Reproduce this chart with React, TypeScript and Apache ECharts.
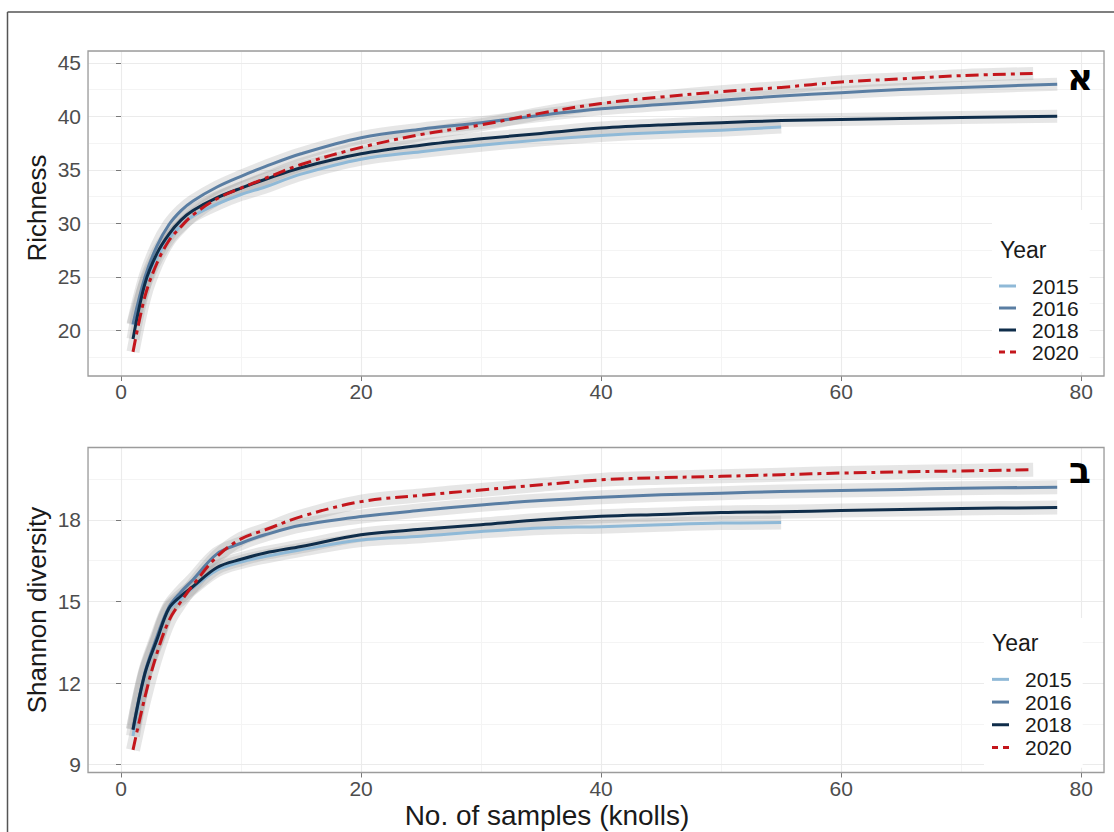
import React, { useEffect, useRef } from "react";
import * as echarts from "echarts";

// Rarefaction curves: number of sampled knolls vs. accumulated richness / Shannon diversity
const YEARS = ["2015", "2016", "2018", "2020"];

const KNOLLS = [1, 2, 3, 4, 5, 6, 8, 10, 12, 15, 20, 25, 30, 35, 40, 45, 50, 55, 60, 65, 70, 78];
const KNOLLS_2015 = [1, 2, 3, 4, 5, 6, 8, 10, 12, 15, 20, 25, 30, 35, 40, 45, 50, 55];
const KNOLLS_2020 = [1, 2, 3, 4, 5, 6, 8, 10, 12, 15, 20, 25, 30, 35, 40, 45, 50, 55, 60, 65, 70, 76];

const RICHNESS_2015 = [20.5, 24.3, 26.8, 28.6, 29.8, 30.7, 31.8, 32.7, 33.4, 34.6, 36.0, 36.7, 37.3, 37.8, 38.2, 38.5, 38.7, 39.0];
const RICHNESS_2016 = [20.6, 25.0, 27.9, 29.9, 31.2, 32.1, 33.4, 34.4, 35.3, 36.5, 38.0, 38.8, 39.4, 40.1, 40.7, 41.1, 41.5, 41.9, 42.2, 42.5, 42.7, 43.0];
const RICHNESS_2018 = [19.2, 24.4, 27.2, 29.0, 30.3, 31.2, 32.4, 33.3, 34.1, 35.2, 36.5, 37.3, 37.9, 38.4, 38.9, 39.2, 39.4, 39.6, 39.7, 39.8, 39.9, 40.0];
const RICHNESS_2020 = [18.0, 23.2, 26.3, 28.4, 29.7, 30.8, 32.3, 33.3, 34.2, 35.5, 37.1, 38.3, 39.2, 40.3, 41.2, 41.8, 42.3, 42.7, 43.2, 43.5, 43.8, 44.0];

const SHANNON_2015 = [10.05, 12.3, 13.55, 14.7, 15.1, 15.5, 16.15, 16.45, 16.65, 16.9, 17.26, 17.4, 17.57, 17.7, 17.75, 17.82, 17.88, 17.9];
const SHANNON_2016 = [10.3, 12.4, 13.7, 14.8, 15.35, 15.8, 16.75, 17.14, 17.45, 17.8, 18.12, 18.35, 18.55, 18.71, 18.83, 18.92, 18.98, 19.04, 19.08, 19.12, 19.16, 19.2];
const SHANNON_2018 = [10.28, 12.36, 13.6, 14.75, 15.2, 15.55, 16.25, 16.55, 16.78, 17.02, 17.45, 17.65, 17.82, 18.0, 18.13, 18.2, 18.27, 18.3, 18.34, 18.38, 18.42, 18.45];
const SHANNON_2020 = [9.54, 11.5, 13.1, 14.3, 15.0, 15.6, 16.65, 17.3, 17.63, 18.12, 18.67, 18.9, 19.1, 19.29, 19.47, 19.55, 19.6, 19.66, 19.72, 19.76, 19.8, 19.84];

const X_TICKS = [0, 20, 40, 60, 80];
const RICHNESS_TICKS = [20, 25, 30, 35, 40, 45];
const SHANNON_TICKS = [9, 12, 15, 18];

const FONT = '"Liberation Sans", Arial, Helvetica, sans-serif';
const COLORS: Record<string, string> = {
  "2015": "#8fb9d7",
  "2016": "#5a7ea3",
  "2018": "#0f2d4a",
  "2020": "#c4161c",
};
const DOT_DASH = [13, 5, 4, 5];
const DASH_ICON = "path://M0,0H6V3H0Z M11,0H17V3H11Z";

const pairs = (xs: number[], ys: number[]) => xs.map((x, i) => [x, ys[i]]);

const PANELS = [
  {
    x: { "2015": KNOLLS_2015, "2016": KNOLLS, "2018": KNOLLS, "2020": KNOLLS_2020 } as Record<string, number[]>,
    y: { "2015": RICHNESS_2015, "2016": RICHNESS_2016, "2018": RICHNESS_2018, "2020": RICHNESS_2020 } as Record<string, number[]>,
  },
  {
    x: { "2015": KNOLLS_2015, "2016": KNOLLS, "2018": KNOLLS, "2020": KNOLLS_2020 } as Record<string, number[]>,
    y: { "2015": SHANNON_2015, "2016": SHANNON_2016, "2018": SHANNON_2018, "2020": SHANNON_2020 } as Record<string, number[]>,
  },
];

function buildOption() {
  const grids = [
    { left: 88, top: 51, width: 1016, height: 325 },
    { left: 88, top: 447.5, width: 1016, height: 325 },
  ].map((g) => ({
    ...g,
    show: true,
    borderColor: "#9c9c9c",
    borderWidth: 1.3,
    backgroundColor: "transparent",
    z: 3,
  }));

  const tickLabel = { color: "#4d4d4d", fontSize: 21, fontFamily: FONT };

  const majorX = (gridIndex: number) => ({
    type: "value",
    gridIndex,
    min: -2.75,
    max: 81.9,
    minInterval: 20,
    maxInterval: 20,
    z: 1,
    axisLine: { show: false },
    axisTick: { show: true, length: 5, customValues: X_TICKS, lineStyle: { color: "#7a7a7a", width: 1 } },
    axisLabel: { ...tickLabel, margin: 5, customValues: X_TICKS },
    splitLine: { show: true, lineStyle: { color: "#ebebeb", width: 1.1 } },
  });
  const minorX = (gridIndex: number) => ({
    type: "value",
    gridIndex,
    min: -2.75,
    max: 81.9,
    minInterval: 10,
    maxInterval: 10,
    z: 0,
    axisLine: { show: false },
    axisTick: { show: false },
    axisLabel: { show: false },
    splitLine: { show: true, lineStyle: { color: "#f4f4f4", width: 1 } },
  });
  const majorY = (gridIndex: number, min: number, max: number, step: number, ticks: number[]) => ({
    type: "value",
    gridIndex,
    min,
    max,
    minInterval: step,
    maxInterval: step,
    z: 1,
    axisLine: { show: false },
    axisTick: { show: true, length: 5, customValues: ticks, lineStyle: { color: "#7a7a7a", width: 1 } },
    axisLabel: { ...tickLabel, margin: 7, customValues: ticks },
    splitLine: { show: true, lineStyle: { color: "#ebebeb", width: 1.1 } },
  });
  const minorY = (gridIndex: number, min: number, max: number, step: number) => ({
    type: "value",
    gridIndex,
    min,
    max,
    minInterval: step,
    maxInterval: step,
    z: 0,
    axisLine: { show: false },
    axisTick: { show: false },
    axisLabel: { show: false },
    splitLine: { show: true, lineStyle: { color: "#f4f4f4", width: 1 } },
  });

  const xAxis = [majorX(0), minorX(0), majorX(1), minorX(1)];
  const yAxis = [
    majorY(0, 15.75, 46.1, 5, RICHNESS_TICKS),
    minorY(0, 15.75, 46.1, 2.5),
    majorY(1, 8.71, 20.66, 3, SHANNON_TICKS),
    minorY(1, 8.71, 20.66, 1.5),
  ];

  const series: any[] = [];
  PANELS.forEach((panel, p) => {
    const axisIndex = p * 2;
    // confidence ribbons (drawn underneath every curve)
    YEARS.forEach((year) => {
      series.push({
        type: "line",
        xAxisIndex: axisIndex,
        yAxisIndex: axisIndex,
        data: pairs(panel.x[year], panel.y[year]),
        symbol: "none",
        smooth: 0.35,
        silent: true,
        z: 1,
        lineStyle: { color: "rgba(140,140,140,0.22)", width: p === 0 ? 13 : 14, cap: "butt", join: "round" },
        itemStyle: { color: "rgba(140,140,140,0.22)" },
      });
    });
    YEARS.forEach((year) => {
      series.push({
        type: "line",
        name: year,
        xAxisIndex: axisIndex,
        yAxisIndex: axisIndex,
        data: pairs(panel.x[year], panel.y[year]),
        symbol: "none",
        smooth: 0.35,
        silent: true,
        z: 2,
        color: COLORS[year],
        itemStyle: { color: COLORS[year] },
        lineStyle: {
          color: COLORS[year],
          width: 3,
          type: year === "2020" ? DOT_DASH : "solid",
          cap: "butt",
          join: "round",
        },
      });
    });
  });

  const legendData = YEARS.map((y) => ({ name: y, icon: y === "2020" ? DASH_ICON : "rect" }));
  const legendBase = {
    orient: "vertical",
    backgroundColor: "#ffffff",
    itemWidth: 17,
    itemHeight: 3,
    itemGap: 0,
    selectedMode: false,
    z: 6,
    data: legendData,
  };
  const legend = [
    {
      ...legendBase,
      left: 992,
      top: 210,
      padding: [65, 11, 9, 7],
      textStyle: { fontSize: 21, lineHeight: 22, color: "#1a1a1a", fontFamily: FONT, padding: [0, 0, 0, 11] },
    },
    {
      ...legendBase,
      left: 984,
      top: 618,
      padding: [50, 11, 9, 8],
      textStyle: { fontSize: 21, lineHeight: 22.7, color: "#1a1a1a", fontFamily: FONT, padding: [0, 0, 0, 11] },
    },
  ];

  const title = (text: string, x: number, y: number, size: number, rotation = 0) => ({
    type: "text",
    x,
    y,
    rotation,
    z: 100,
    silent: true,
    style: { text, fontSize: size, fontFamily: FONT, fill: "#1a1a1a", align: "center", verticalAlign: "middle" },
  });
  const letter = (text: string, x: number, y: number) => ({
    type: "text",
    x,
    y,
    z: 100,
    silent: true,
    style: {
      text,
      fontSize: 36,
      fontWeight: "bold",
      fontFamily: '"DejaVu Sans", sans-serif',
      fill: "#000000",
      align: "center",
      verticalAlign: "middle",
    },
  });

  const graphic = [
    { type: "line", z: 100, silent: true, shape: { x1: 7.5, y1: 12, x2: 1114, y2: 12 }, style: { stroke: "#555", lineWidth: 1.5 } },
    { type: "line", z: 100, silent: true, shape: { x1: 7.5, y1: 12, x2: 7.5, y2: 832 }, style: { stroke: "#555", lineWidth: 1.5 } },
    title("Richness", 37, 208, 26, Math.PI / 2),
    title("Shannon diversity", 36.5, 610, 26, Math.PI / 2),
    title("No. of samples (knolls)", 547, 815, 28),
    {
      type: "text",
      x: 1000,
      y: 250,
      z: 100,
      silent: true,
      style: { text: "Year", fontSize: 23, fontFamily: FONT, fill: "#1a1a1a", verticalAlign: "middle" },
    },
    {
      type: "text",
      x: 992,
      y: 643,
      z: 100,
      silent: true,
      style: { text: "Year", fontSize: 23, fontFamily: FONT, fill: "#1a1a1a", verticalAlign: "middle" },
    },
    letter("א", 1080, 77.5),
    letter("ב", 1080, 470),
  ];

  return {
    animation: false,
    backgroundColor: "#ffffff",
    textStyle: { fontFamily: FONT },
    grid: grids,
    xAxis,
    yAxis,
    legend,
    series,
    graphic,
  };
}

export default function App() {
  const ref = useRef<HTMLDivElement>(null);
  useEffect(() => {
    if (!ref.current) return;
    const chart = echarts.init(ref.current, undefined, { renderer: "svg" });
    chart.setOption(buildOption() as any);
    return () => chart.dispose();
  }, []);
  return (
    <div
      ref={ref}
      style={{ position: "fixed", left: 0, top: 0, width: 1114, height: 832, background: "#fff" }}
    />
  );
}
